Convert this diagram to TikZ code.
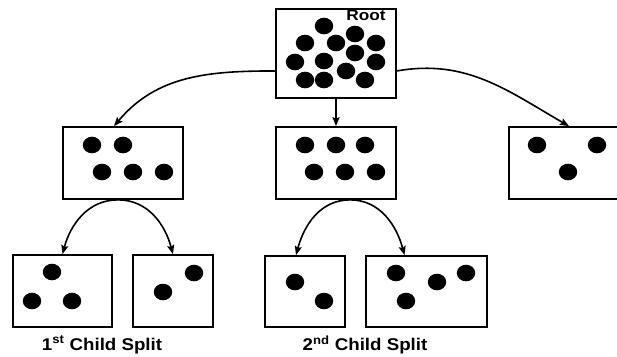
\documentclass[tikz,border=0pt]{standalone}
\usepackage{fontspec}
\setmainfont{Liberation Sans}
\usetikzlibrary{arrows.meta}
\newcommand{\Blob}{ellipse (9.2 and 8.3)}

\tikzset{
  box/.style={draw, line width=1.7pt, minimum height=72pt, inner sep=0pt},
  link/.style={line width=1.6pt, -{Stealth[length=9pt,width=7pt,inset=1.5pt]}},
  caption/.style={font=\bfseries\fontsize{17}{17}\selectfont, xscale=1.1}
}

\begin{document}
\begin{tikzpicture}[x=1pt,y=-1pt]
\clip (0,0) rectangle (617,356);
% the boxes
\node[box, minimum width=120pt, minimum height=89pt] (root) at (336,53.5) {};
\node[box, minimum width=120pt] (midl) at (123,163) {};
\node[box, minimum width=120pt] (midc) at (336,163) {};
\node[box, minimum width=120pt] (midr) at (569,163) {};
\node[box, minimum width=99pt] (leafa) at (62.5,291) {};
\node[box, minimum width=80pt] (leafb) at (173,291) {};
\node[box, minimum width=80pt, minimum height=71pt] (leafc) at (305,291.5) {};
\node[box, minimum width=121pt, minimum height=71pt] (leafd) at (426.5,291.5) {};
\node[font=\bfseries\fontsize{15}{15}\selectfont, xscale=1.15] (rootlabel) at (366,15.5) {Root};
% the points
\fill (324,26) \Blob; \fill (305,43) \Blob; \fill (336,43) \Blob;
\fill (355,34) \Blob; \fill (376,43) \Blob; \fill (355,53) \Blob;
\fill (295,62) \Blob; \fill (324,61) \Blob; \fill (376,62) \Blob;
\fill (305,80) \Blob; \fill (324,80) \Blob; \fill (346,71) \Blob;
\fill (365,80) \Blob;
\fill (92,145) \Blob; \fill (123,145) \Blob;
\fill (102,172) \Blob; \fill (133,172) \Blob; \fill (164,172) \Blob;
\fill (305,145) \Blob; \fill (336,145) \Blob; \fill (365,145) \Blob;
\fill (314,172) \Blob; \fill (345,172) \Blob; \fill (376,172) \Blob;
\fill (537,145) \Blob; \fill (597,145) \Blob; \fill (568,172) \Blob;
\fill (52,272) \Blob; \fill (32,301) \Blob; \fill (72,301) \Blob;
\fill (194,273) \Blob; \fill (163,292) \Blob;
\fill (295,282) \Blob; \fill (324,301) \Blob;
\fill (396,273) \Blob; \fill (437,282) \Blob; \fill (466,273) \Blob;
\fill (406,301) \Blob;
% splits
\draw[link] (root.196) to[out=180,in=50] ([xshift=-9pt]midl.north);
\draw[link] (root.south) -- (midc.north);
\draw[link] (root.344) to[out=10,in=150] (midr.north);
\draw[link] ([xshift=-5pt]midl.south) to[out=180,in=75] (leafa.north);
\draw[link] ([xshift=-5pt]midl.south) to[out=0,in=105] (leafb.north);
\draw[link] ([xshift=14pt]midc.south) to[out=180,in=75] ([xshift=-9pt]leafc.north);
\draw[link] ([xshift=14pt]midc.south) to[out=0,in=105] ([xshift=-22pt]leafd.north);
\node[caption] (capa) at (102,345) {1\textsuperscript{st} Child Split};
\node[caption] (capb) at (365,345) {2\textsuperscript{nd} Child Split};
\end{tikzpicture}
\end{document}
